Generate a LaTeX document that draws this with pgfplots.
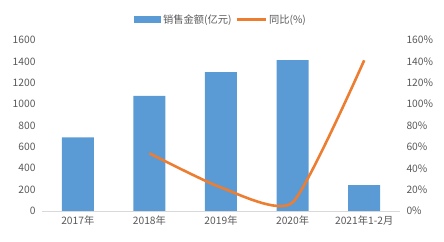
\documentclass[border=0pt]{standalone}
\usepackage{fontspec}
\setmainfont{Noto Sans CJK SC}
\usepackage{pgfplots}
\pgfplotsset{compat=1.18}
\definecolor{barblue}{HTML}{5B9BD5}
\definecolor{lineorange}{HTML}{ED7D31}
\definecolor{txt}{HTML}{595959}
\definecolor{axl}{HTML}{D9D9D9}
\begin{document}
\begin{tikzpicture}
\path[use as bounding box] (-42bp,-31bp) rectangle (402bp,211bp);
\pgfplotsset{
  common/.style={
    scale only axis, width=358bp, height=171bp, at={(0,0)}, anchor=south west,
    xmin=-0.5, xmax=4.5, ymin=0,
    major tick length=0pt, tick style={draw=none},
    tick label style={font=\fontsize{10.3}{12}\selectfont, text=txt},
    /pgf/number format/assume math mode=true,
    /pgf/number format/1000 sep={},
  }
}
\begin{axis}[common,
  ymax=1600, ytick={0,200,...,1600},
  axis x line*=bottom, axis y line*=left,
  x axis line style={draw=axl, line width=1bp},
  y axis line style={draw=none},
  xtick={0,1,2,3,4},
  xticklabels={2017年,2018年,2019年,2020年,2021年1-2月},
  xticklabel style={yshift=-1bp},
  yticklabel style={xshift=-3bp},
  legend style={at={(0.5,1)}, anchor=south, yshift=13bp, draw=none, fill=none,
    font=\fontsize{10.3}{12}\selectfont, text=txt, inner sep=0pt,
    /tikz/every even column/.append style={column sep=2bp}},
  legend columns=2,
  legend cell align=left,
]
\addplot[ybar, bar width=32bp, fill=barblue, draw=none,
  legend image code/.code={\fill[barblue] (0bp,-3.5bp) rectangle (27bp,3.5bp);}]
  coordinates {(0,690) (1,1078) (2,1300) (3,1412) (4,243)};
\addlegendentry{销售金额(亿元)}
\addlegendimage{legend image code/.code={\draw[lineorange, line width=2.5bp] (0bp,0bp) -- (29bp,0bp);}}
\addlegendentry{同比(\%)}
\end{axis}
\begin{axis}[common,
  ymax=160, ytick={0,20,...,160},
  axis x line=none, axis y line*=right,
  y axis line style={draw=none},
  yticklabel={\pgfmathprintnumber{\tick}\%},
  yticklabel style={xshift=3bp},
]
\addplot[lineorange, line width=2.6bp, smooth, tension=0.35] coordinates {(1,54) (2,22) (3,8) (4,141)};
\end{axis}
\end{tikzpicture}
\end{document}
